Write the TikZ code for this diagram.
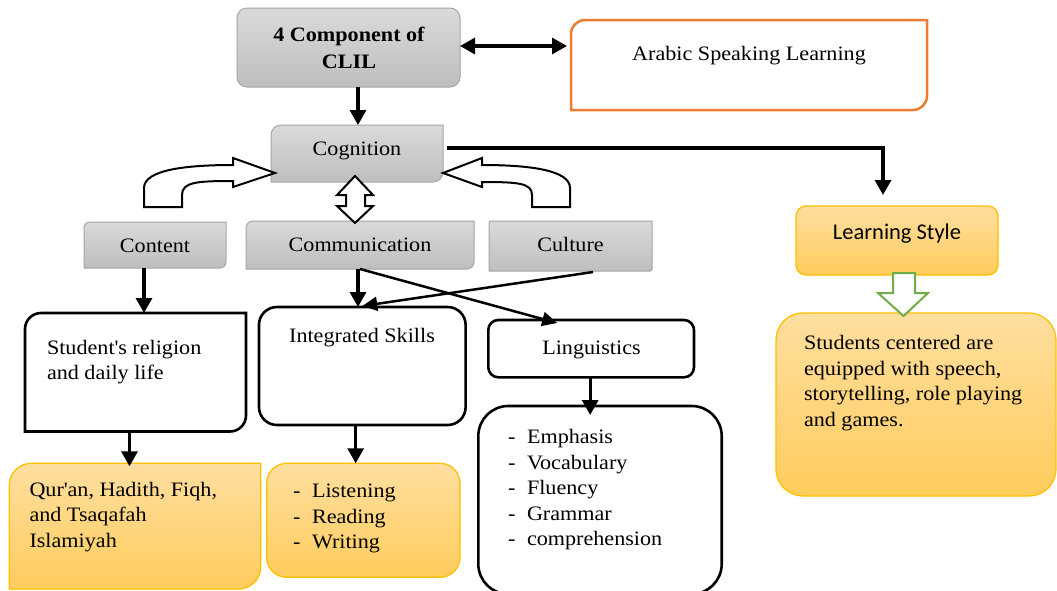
\documentclass[tikz,border=0pt]{standalone}
\usepackage{fontspec}
\setmainfont{Liberation Serif}[FakeStretch=1.08]
\newfontfamily\labelsans{Carlito}
\usetikzlibrary{arrows.meta}

\definecolor{grayTop}{RGB}{218,218,218}
\definecolor{grayBot}{RGB}{190,190,190}
\definecolor{grayEdge}{RGB}{165,165,165}
\definecolor{goldTop}{RGB}{255,223,160}
\definecolor{goldBot}{RGB}{255,204,92}
\definecolor{goldEdge}{RGB}{255,192,0}
\definecolor{orangeEdge}{RGB}{237,125,49}
\definecolor{leafGreen}{RGB}{112,173,71}

\newcommand\bodysize{\fontsize{20.5}{25.5}\selectfont}
\newcommand\titlesize{\fontsize{20.5}{27}\selectfont}
\newcommand\dashitem{\makebox[19pt][l]{-}}

% box outline with only the top-left and bottom-right corners rounded
\newcommand\cornerbox[3]{%
  \path[#1] (#2.north east) -- ([xshift=#3]#2.north west)
    arc[start angle=90,end angle=180,radius=#3] -- (#2.south west)
    -- ([xshift=-#3]#2.south east)
    arc[start angle=270,end angle=360,radius=#3] -- cycle;}

\tikzset{
  frame/.style 2 args={rectangle,inner sep=0pt,outer sep=0pt,
    minimum width=#1,minimum height=#2},
  grayfill/.style={top color=grayTop,bottom color=grayBot,draw=grayEdge,line width=1pt},
  goldfill/.style={top color=goldTop,bottom color=goldBot,draw=goldEdge,line width=1.3pt},
  inkline/.style={draw=black,line width=2.6pt},
  label/.style={font=\bodysize,inner sep=0pt,outer sep=0pt,align=left,anchor=base west},
  centerlabel/.style={font=\bodysize,inner sep=0pt,outer sep=0pt,align=center,anchor=base},
  conn/.style={line width=3.2pt,-{Triangle[length=15pt,width=16pt]}},
  slant/.style={line width=2.5pt,-{Triangle[length=15pt,width=14pt]}},
  hollow/.style={draw=black,fill=white,line width=2pt,line join=miter},
}

\begin{document}
\begin{tikzpicture}[x=1pt,y=1pt]
\useasboundingbox (0,-590) rectangle (1057,0);
\clip (0,-590) rectangle (1057,0);

% ---- boxes ----
\node[frame={223pt}{79pt},grayfill,rounded corners=10pt] (comp) at (348.5,-47.5) {};
\node[frame={356pt}{90pt}] (arabic) at (749,-65) {};
\cornerbox{draw=orangeEdge,line width=2.5pt,fill=white}{arabic}{14pt}
\node[frame={172pt}{57pt}] (cog) at (357,-153.5) {};
\cornerbox{grayfill}{cog}{10pt}
\node[frame={142pt}{46pt}] (content) at (155,-245) {};
\cornerbox{grayfill}{content}{6pt}
\node[frame={228pt}{48pt}] (comm) at (360,-245) {};
\cornerbox{grayfill}{comm}{7pt}
\node[frame={163pt}{50pt}] (culture) at (570.5,-246) {};
\cornerbox{grayfill}{culture}{2pt}
\node[frame={202pt}{69pt},goldfill,rounded corners=10pt] (lstyle) at (897,-240.5) {};
\node[frame={280pt}{183pt},goldfill,rounded corners=27pt] (cent) at (916,-404.5) {};
\node[frame={221pt}{118.5pt}] (relig) at (135.5,-372.25) {};
\cornerbox{inkline,fill=white}{relig}{16pt}
\node[frame={206.7pt}{118pt},inkline,rounded corners=18pt] (integ) at (362.3,-366) {};
\node[frame={251.4pt}{125.7pt}] (quran) at (135,-526.15) {};
\cornerbox{goldfill}{quran}{22pt}
\node[frame={193.3pt}{114pt},goldfill,rounded corners=20pt] (listen) at (363.35,-520.3) {};
\node[frame={205.7pt}{57.3pt},inkline,rounded corners=10pt] (ling) at (591.15,-348.65) {};
\node[frame={243.4pt}{188pt},inkline,rounded corners=30pt] (emph) at (600,-500) {};

% ---- texts (base anchor sits on the last line) ----
\node[centerlabel,font=\titlesize\bfseries] (compText) at (349,-68) {4 Component of\\CLIL};
\node[centerlabel] (arabicText) at (749,-60.5) {Arabic Speaking Learning};
\node[centerlabel] (cogText) at (357,-155.5) {Cognition};
\node[centerlabel] (contentText) at (155,-252.5) {Content};
\node[centerlabel] (commText) at (360,-251.5) {Communication};
\node[centerlabel] (cultureText) at (570.5,-251.5) {Culture};
\node[centerlabel,font=\labelsans\fontsize{22.5}{27}\selectfont] (lstyleText) at (897,-239.5) {Learning Style};
\node[label] (centText) at (804,-426) {Students centered are\\equipped with speech,\\storytelling, role playing\\and games.};
\node[label] (religText) at (47,-379.5) {Student\textquotesingle s religion\\and daily life};
\node[centerlabel] (integText) at (362,-342) {Integrated Skills};
\node[centerlabel] (lingText) at (591.5,-354) {Linguistics};
\node[label] (quranText) at (29.5,-547) {Qur\textquotesingle an, Hadith, Fiqh,\\and Tsaqafah\\Islamiyah};
\node[label] (listenText) at (293,-548.5) {\dashitem Listening\\\dashitem Reading\\\dashitem Writing};
\node[label] (emphText) at (508,-545.5) {\dashitem Emphasis\\\dashitem Vocabulary\\\dashitem Fluency\\\dashitem Grammar\\\dashitem comprehension};

% ---- connectors ----
\draw[conn,{Triangle[length=15pt,width=16pt]}-{Triangle[length=15pt,width=16pt]},shorten >=4pt]
  ([yshift=1.5pt]comp.east) -- ([yshift=1.5pt]comp.east -| arabic.west);
\draw[conn] ([xshift=1pt]cog.north |- comp.south) -- ([xshift=1pt]cog.north);
\coordinate (lsin) at (883,-195);
\draw[conn] ([xshift=4pt,yshift=5.5pt]cog.east) -| (lsin);
\draw[conn] ([xshift=-11pt]content.south) -- ([xshift=-11pt]content.south |- relig.north);
\draw[conn] ([xshift=-2pt]comm.south) -- ([xshift=-2pt]comm.south |- integ.north);
\draw[slant] ([xshift=22.5pt,yshift=-1pt]culture.south) -- ([yshift=1pt]integ.north);
\draw[slant] (comm.south) -- ([xshift=-34pt,yshift=-3pt]ling.north);
\draw[conn] ([xshift=-6pt]relig.south) -- ([xshift=-6pt,yshift=-3pt]relig.south |- quran.north);
\draw[conn] ([xshift=-6.6pt]integ.south) -- ([xshift=-6.6pt]integ.south |- listen.north);
\draw[conn] ([xshift=-1pt]ling.south) -- ([xshift=-1pt,yshift=-9pt]ling.south |- emph.north);

% ---- block arrows ----
% bent arrow from Content up to Cognition
\path[hollow] (144,-207) -- (144,-188) .. controls (144,-170) and (185,-165) .. (233,-165)
  -- (233,-158) -- (275,-173) -- (233,-187) -- (233,-181)
  .. controls (197,-181) and (182,-182) .. (182,-195) -- (182,-207) -- cycle;
% bent arrow from Culture up to Cognition
\path[hollow] (570,-207) -- (570,-188) .. controls (570,-170) and (529,-165) .. (482,-165)
  -- (482,-158) -- (443,-173) -- (482,-187) -- (482,-182)
  .. controls (518,-182) and (532,-183) .. (532,-195) -- (532,-207) -- cycle;
% two-headed arrow between Cognition and Communication
\path[hollow] (355,-176) -- (373,-195) -- (365,-195) -- (365,-206) -- (373,-206)
  -- (355,-223) -- (337,-206) -- (346,-206) -- (346,-195) -- (337,-195) -- cycle;
% arrow from Learning Style down to its description
\path[draw=leafGreen,fill=white,line width=2pt,line join=miter]
  (893,-273) -- (915,-273) -- (915,-293) -- (928,-293) -- (903.5,-316)
  -- (878,-293) -- (893,-293) -- cycle;
\end{tikzpicture}
\end{document}
